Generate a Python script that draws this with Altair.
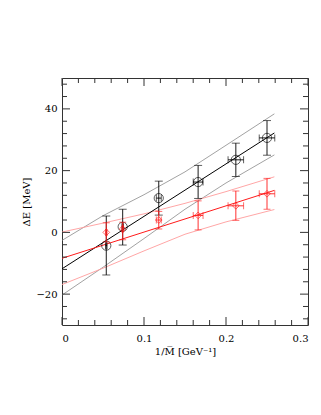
import altair as alt
import pandas as pd

# ---- data ----
inv_mass = [0.054, 0.074, 0.118, 0.166, 0.212, 0.250]
inv_mass_err = [0.001, 0.001, 0.003, 0.006, 0.0095, 0.0095]

black_y = [-4.3, 1.8, 11.1, 16.3, 23.5, 30.6]
black_lo = [-13.8, -4.1, 5.6, 11.0, 18.1, 25.0]
black_hi = [5.3, 7.5, 16.6, 21.7, 28.9, 36.2]

red_y = [0.0, 1.1, 4.0, 5.5, 8.6, 12.5]
red_lo = [-3.1, -2.4, 1.1, 0.8, 3.9, 7.5]
red_hi = [3.1, 3.3, 6.8, 10.2, 13.4, 17.5]

fit_x = [0.0, 0.259]
black_fit = [-11.8, 32.2]
red_fit = [-8.4, 13.6]

band_x = [0.0, 0.05, 0.10, 0.15, 0.20, 0.259]
black_band_hi = [-2.6, 5.4, 12.2, 19.6, 28.2, 38.4]
black_band_lo = [-20.3, -11.3, -2.0, 7.5, 16.0, 25.1]
red_band_hi = [0.1, 3.0, 6.0, 9.4, 13.2, 18.0]
red_band_lo = [-16.9, -11.6, -6.0, -0.6, 3.4, 7.4]

x_major = [0.0, 0.1, 0.2, 0.3]
x_minor = [0.02, 0.04, 0.06, 0.08, 0.12, 0.14, 0.16, 0.18, 0.22, 0.24, 0.26, 0.28]
y_major = [-20, 0, 20, 40]
y_minor = [-28, -24, -16, -12, -8, -4, 4, 8, 12, 16, 24, 28, 32, 36, 44, 48]

# ---- styling ----
W, H = 246, 247
FONT = "DejaVu Serif"
FS = 10
BLACK = "#000000"
GRAY = "#8a8a8a"
RED = "#ff1a1a"
PINK = "#ff9c9c"

xscale = alt.Scale(domain=[0, 0.3], nice=False, zero=False)
yscale = alt.Scale(domain=[-30, 50], nice=False, zero=False)

xaxis = alt.Axis(values=x_major, ticks=False, domain=False, grid=False,
                 labelExpr="datum.value == 0 ? '0' : format(datum.value, '.1f')",
                 labelPadding=8, labelFont=FONT, labelFontSize=FS, labelColor="black",
                 title="1/M\u0305 [GeV\u207b\u00b9]", titleFont=FONT, titleFontSize=FS,
                 titleFontWeight="normal", titleColor="black", titlePadding=3)
yaxis = alt.Axis(values=y_major, ticks=False, domain=False, grid=False,
                 labelPadding=5, labelFont=FONT, labelFontSize=FS, labelColor="black",
                 title="\u0394E [MeV]", titleFont=FONT, titleFontSize=FS,
                 titleFontWeight="normal", titleColor="black", titlePadding=4)


def X(field):
    return alt.X(field, type="quantitative", scale=xscale, axis=xaxis)


def Y(field):
    return alt.Y(field, type="quantitative", scale=yscale, axis=yaxis)


def line(xv, yv, color, width):
    df = pd.DataFrame({"x": xv, "y": yv})
    return alt.Chart(df).mark_line(color=color, strokeWidth=width, clip=True).encode(
        x=X("x"), y=Y("y"))


pts = pd.DataFrame({
    "x": inv_mass,
    "xlo": [a - b for a, b in zip(inv_mass, inv_mass_err)],
    "xhi": [a + b for a, b in zip(inv_mass, inv_mass_err)],
    "by": black_y, "blo": black_lo, "bhi": black_hi,
    "ry": red_y, "rlo": red_lo, "rhi": red_hi,
})
base = alt.Chart(pts)

layers = [
    line(band_x, black_band_hi, GRAY, 0.8),
    line(band_x, black_band_lo, GRAY, 0.8),
    line(band_x, red_band_hi, PINK, 0.9),
    line(band_x, red_band_lo, PINK, 0.9),
    line(fit_x, black_fit, BLACK, 1),
    line(fit_x, red_fit, RED, 1),
]

# error bars and markers
for yf, lof, hif, col, cap, shape, size in [
    ("by", "blo", "bhi", BLACK, 8, "circle", 85),
    ("ry", "rlo", "rhi", RED, 7, "diamond", 45),
]:
    layers += [
        base.mark_rule(color=col, strokeWidth=0.9).encode(x=X("x"), y=Y(lof), y2=alt.Y2(hif)),
        base.mark_tick(color=col, orient="horizontal", size=cap, thickness=0.9).encode(x=X("x"), y=Y(lof)),
        base.mark_tick(color=col, orient="horizontal", size=cap, thickness=0.9).encode(x=X("x"), y=Y(hif)),
        base.mark_rule(color=col, strokeWidth=0.9).encode(x=X("xlo"), x2=alt.X2("xhi"), y=Y(yf)),
        base.mark_tick(color=col, orient="vertical", size=7, thickness=0.9).encode(x=X("xlo"), y=Y(yf)),
        base.mark_tick(color=col, orient="vertical", size=7, thickness=0.9).encode(x=X("xhi"), y=Y(yf)),
        base.mark_point(color=col, shape=shape, size=size, filled=False, strokeWidth=0.9).encode(x=X("x"), y=Y(yf)),
    ]

# inward ticks on all four sides
xmaj = alt.Chart(pd.DataFrame({"v": x_major}))
xmin = alt.Chart(pd.DataFrame({"v": x_minor}))
ymaj = alt.Chart(pd.DataFrame({"v": y_major}))
ymin = alt.Chart(pd.DataFrame({"v": y_minor}))
TC = "#333333"
for ch, L in [(xmaj, 8), (xmin, 5)]:
    layers += [
        ch.mark_rule(color=TC, strokeWidth=1).encode(x=X("v"), y=alt.value(H), y2=alt.value(H - L)),
        ch.mark_rule(color=TC, strokeWidth=1).encode(x=X("v"), y=alt.value(0), y2=alt.value(L)),
    ]
for ch, L in [(ymaj, 8), (ymin, 5)]:
    layers += [
        ch.mark_rule(color=TC, strokeWidth=1).encode(y=Y("v"), x=alt.value(0), x2=alt.value(L)),
        ch.mark_rule(color=TC, strokeWidth=1).encode(y=Y("v"), x=alt.value(W), x2=alt.value(W - L)),
    ]

chart = alt.layer(*layers).properties(
    width=W, height=H,
    autosize=alt.AutoSizeParams(type="none"),
    padding={"left": 54, "top": 70, "right": 5, "bottom": 80},
    background="white",
).configure_view(stroke="#333333", strokeWidth=1)

chart.save("out.html", embed_options={"renderer": "svg", "actions": False})
